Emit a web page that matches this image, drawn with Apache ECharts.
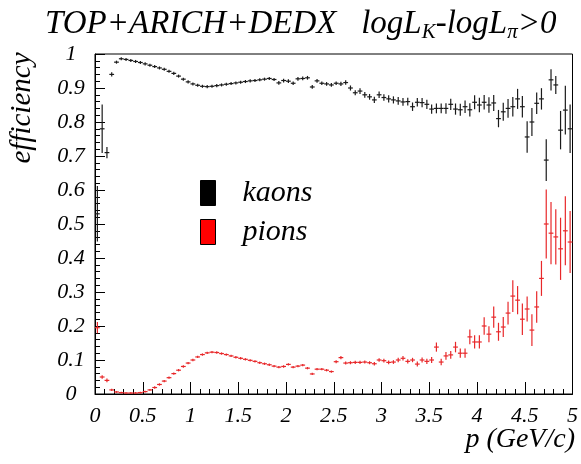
<!DOCTYPE html>
<html>
<head>
<meta charset="utf-8">
<script src="https://cdn.jsdelivr.net/npm/echarts@6/dist/echarts.min.js"></script>
<style>
html,body{margin:0;padding:0;background:#fff;}
#main{width:581px;height:464px;}
</style>
</head>
<body>
<div id="main"></div>
<script>
// momentum bin centres (GeV/c), bin width 0.05
const momentum = [
0.025,0.075,0.125,0.175,0.225,0.275,0.325,0.375,0.425,0.475,
0.525,0.575,0.625,0.675,0.725,0.775,0.825,0.875,0.925,0.975,
1.025,1.075,1.125,1.175,1.225,1.275,1.325,1.375,1.425,1.475,
1.525,1.575,1.625,1.675,1.725,1.775,1.825,1.875,1.925,1.975,
2.025,2.075,2.125,2.175,2.225,2.275,2.325,2.375,2.425,2.475,
2.525,2.575,2.625,2.675,2.725,2.775,2.825,2.875,2.925,2.975,
3.025,3.075,3.125,3.175,3.225,3.275,3.325,3.375,3.425,3.475,
3.525,3.575,3.625,3.675,3.725,3.775,3.825,3.875,3.925,3.975,
4.025,4.075,4.125,4.175,4.225,4.275,4.325,4.375,4.425,4.475,
4.525,4.575,4.625,4.675,4.725,4.775,4.825,4.875,4.925,4.975];
const binHalfWidth = 0.025;

const kaonEff = [
0.53,0.78,0.71,0.94,0.976,0.986,0.984,0.981,0.978,0.975,
0.971,0.967,0.963,0.959,0.955,0.949,0.943,0.935,0.926,0.918,
0.912,0.908,0.905,0.904,0.905,0.907,0.909,0.911,0.913,0.915,
0.917,0.919,0.921,0.922,0.924,0.926,0.928,0.925,0.915,0.922,
0.92,0.914,0.927,0.928,0.93,0.903,0.921,0.914,0.912,0.909,
0.914,0.912,0.916,0.9,0.886,0.891,0.88,0.874,0.865,0.88,
0.872,0.868,0.865,0.862,0.859,0.86,0.845,0.858,0.857,0.852,
0.838,0.84,0.84,0.84,0.852,0.838,0.836,0.845,0.836,0.858,
0.85,0.858,0.85,0.856,0.81,0.83,0.84,0.845,0.868,0.845,
0.756,0.8,0.855,0.868,0.688,0.924,0.909,0.776,0.835,0.78];
const kaonErr = [
0.08,0.07,0.015,0.005,0.003,0.003,0.003,0.003,0.003,0.003,
0.003,0.003,0.003,0.003,0.003,0.003,0.003,0.003,0.003,0.003,
0.003,0.003,0.003,0.003,0.003,0.003,0.003,0.003,0.003,0.003,
0.003,0.003,0.003,0.003,0.003,0.003,0.003,0.003,0.004,0.004,
0.004,0.004,0.004,0.004,0.004,0.004,0.004,0.004,0.004,0.004,
0.004,0.005,0.005,0.006,0.006,0.007,0.007,0.007,0.008,0.008,
0.008,0.009,0.009,0.01,0.01,0.01,0.011,0.011,0.012,0.012,
0.012,0.013,0.013,0.014,0.015,0.015,0.016,0.017,0.018,0.019,
0.02,0.02,0.021,0.022,0.024,0.025,0.026,0.027,0.028,0.03,
0.045,0.04,0.03,0.03,0.06,0.03,0.025,0.055,0.07,0.07];

const pionEff = [
0.195,0.05,0.04,0.012,0.006,0.004,0.003,0.003,0.003,0.004,
0.007,0.012,0.019,0.028,0.038,0.048,0.06,0.07,0.081,0.091,
0.1,0.109,0.116,0.121,0.123,0.122,0.119,0.116,0.112,0.108,
0.105,0.102,0.099,0.096,0.092,0.089,0.086,0.082,0.079,0.081,
0.087,0.079,0.082,0.085,0.076,0.059,0.073,0.073,0.07,0.066,
0.095,0.107,0.091,0.092,0.093,0.093,0.094,0.092,0.089,0.1,
0.098,0.093,0.094,0.1,0.105,0.096,0.1,0.088,0.1,0.096,
0.1,0.138,0.094,0.112,0.115,0.138,0.12,0.12,0.168,0.153,
0.153,0.2,0.176,0.226,0.183,0.197,0.238,0.288,0.276,0.22,
0.25,0.188,0.256,0.34,0.5,0.473,0.462,0.427,0.48,0.447];
const pionErr = [
0.015,0.004,0.004,0.002,0.001,0.001,0.001,0.001,0.001,0.001,
0.001,0.001,0.002,0.002,0.002,0.002,0.002,0.002,0.002,0.002,
0.002,0.002,0.002,0.002,0.002,0.002,0.002,0.002,0.002,0.002,
0.002,0.002,0.002,0.002,0.002,0.002,0.002,0.002,0.002,0.002,
0.002,0.002,0.002,0.002,0.002,0.002,0.002,0.002,0.002,0.002,
0.003,0.003,0.003,0.003,0.003,0.003,0.003,0.003,0.004,0.004,
0.004,0.004,0.004,0.005,0.005,0.005,0.005,0.006,0.006,0.006,
0.007,0.012,0.008,0.01,0.01,0.014,0.012,0.012,0.02,0.018,
0.018,0.024,0.022,0.03,0.025,0.028,0.032,0.045,0.04,0.045,
0.035,0.045,0.045,0.05,0.1,0.09,0.08,0.09,0.1,0.09];

const xTicks = [0,0.5,1,1.5,2,2.5,3,3.5,4,4.5,5];
const yTicks = [0,0.1,0.2,0.3,0.4,0.5,0.6,0.7,0.8,0.9,1];

const kaonColor = '#1a1a1a';
const pionColor = '#e8282a';
const serif = 'Liberation Serif';

function build(eff, err){
  return momentum.map((p,i)=>[p, eff[i], err[i]]);
}
function makeRender(color){
  return function(params, api){
    const x = api.value(0), y = api.value(1), e = api.value(2);
    const a = api.coord([x - binHalfWidth, y]);
    const b = api.coord([x + binHalfWidth, y]);
    const t = api.coord([x, y + e]);
    const u = api.coord([x, y - e]);
    const st = {stroke: color, lineWidth: 1.2};
    return {type:'group', children:[
      {type:'line', shape:{x1:a[0], y1:a[1], x2:b[0], y2:b[1]}, style: st},
      {type:'line', shape:{x1:t[0], y1:t[1]-0.5, x2:u[0], y2:u[1]+0.5}, style: st}
    ]};
  };
}

const chart = echarts.init(document.getElementById('main'), null, {renderer:'canvas'});
chart.setOption({
  animation: false,
  backgroundColor: '#fff',
  textStyle: {fontFamily: serif, fontStyle: 'italic'},
  title: {
    left: 40, top: 0,
    text: '{a|TOP+ARICH+DEDX   logL}{s|K}{a|-logL}{s|π}{a|>0}',
    textStyle: {
      fontFamily: serif, fontStyle: 'italic', fontWeight: 'normal',
      rich: {
        a: {fontFamily: serif, fontStyle:'italic', fontWeight:'normal', fontSize: 33, color:'#000', lineHeight: 38},
        s: {fontFamily: serif, fontStyle:'italic', fontWeight:'normal', fontSize: 21, color:'#000', lineHeight: 18, verticalAlign:'bottom'}
      }
    }
  },
  grid: {left: 95, right: 7, top: 54, bottom: 70, show: true, borderColor:'#000', borderWidth:1, backgroundColor:'transparent'},
  legend: {
    orient: 'vertical', left: 200, top: 178, padding: 0, itemWidth: 15, itemHeight: 25, itemGap: 9,
    icon: 'rect',
    textStyle: {fontFamily: serif, fontStyle:'italic', fontSize: 30, color:'#000', padding:[0,0,0,22]},
    data: [
      {name:'kaons', itemStyle:{color:'#000', borderColor:'#000', borderWidth:1}},
      {name:'pions', itemStyle:{color:'#ff0000', borderColor:'#000', borderWidth:1}}
    ]
  },
  xAxis: {
    type:'value', min: xTicks[0], max: xTicks[xTicks.length-1], interval: 0.5,
    axisLine:{show:true, lineStyle:{color:'#000', width:1}},
    axisTick:{show:true, inside:true, length:12, lineStyle:{color:'#000'}},
    minorTick:{show:true, splitNumber:5, length:5, lineStyle:{color:'#000'}},
    splitLine:{show:false},
    axisLabel:{fontFamily: serif, fontStyle:'italic', fontSize: 22, color:'#000', margin: 11}
  },
  yAxis: {
    type:'value', min: yTicks[0], max: yTicks[yTicks.length-1], interval: 0.1,
    axisLine:{show:true, lineStyle:{color:'#000', width:1}},
    axisTick:{show:true, inside:true, length:10, lineStyle:{color:'#000'}},
    minorTick:{show:true, splitNumber:5, length:5, lineStyle:{color:'#000'}},
    splitLine:{show:false},
    axisLabel:{fontFamily: serif, fontStyle:'italic', fontSize: 22, color:'#000', margin: 24, align:'center'}
  },
  graphic: [
    {type:'text', x: 22, y: 108, rotation: Math.PI/2,
     style:{text:'efficiency', fontFamily: serif, fontStyle:'italic', fontSize: 29, fill:'#000', align:'center', verticalAlign:'middle'}},
    {type:'text', x: 575, y: 440,
     style:{text:'p (GeV/c)', fontFamily: serif, fontStyle:'italic', fontSize: 28, fill:'#000', align:'right', verticalAlign:'middle'}}
  ],
  series: [
    {name:'kaons', type:'custom', renderItem: makeRender(kaonColor), data: build(kaonEff, kaonErr),
     itemStyle:{color:'#000'}, clip:true, encode:{x:0, y:1}},
    {name:'pions', type:'custom', renderItem: makeRender(pionColor), data: build(pionEff, pionErr),
     itemStyle:{color:'#ff0000'}, clip:true, encode:{x:0, y:1}}
  ]
});
</script>
</body>
</html>
